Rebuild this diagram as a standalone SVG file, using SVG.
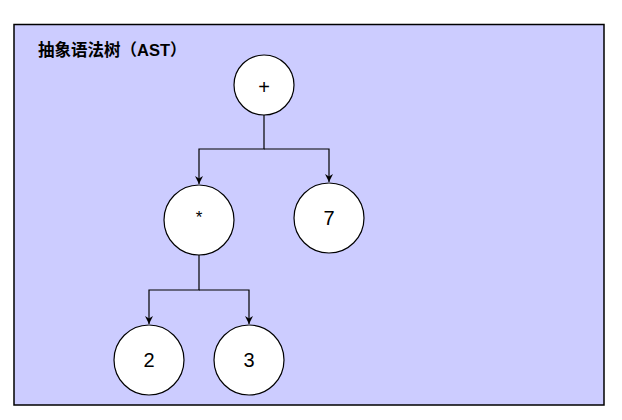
<svg xmlns="http://www.w3.org/2000/svg" width="622" height="420" viewBox="0 0 622 420">
<style>
.frame{fill:#ccccff;stroke:#000;stroke-width:1.5}
.node{fill:#fff;stroke:#000;stroke-width:1.2}
.lbl{font-family:"Liberation Sans",Arial,sans-serif;font-size:20px;fill:#000;text-anchor:middle;dominant-baseline:central}
.title{font-family:"Liberation Sans","Noto Sans CJK SC",sans-serif;font-size:16.5px;font-weight:bold;fill:#000}
.edge{fill:none;stroke:#000;stroke-width:1.2}
</style>
<defs>
<marker id="arr" viewBox="0 0 10 10" refX="10" refY="5" markerWidth="8" markerHeight="8" markerUnits="userSpaceOnUse" orient="auto">
<path d="M0,0 L10,5 L0,10 L3,5 z" fill="#000"/>
</marker>
</defs>
<rect class="frame" x="14" y="24.5" width="590" height="380.5"/>
<text class="title" x="38" y="56">抽象语法树（AST）</text>
<g id="connectors">
<path class="edge" d="M264,115 V149 H199 V184" marker-end="url(#arr)"/>
<path class="edge" d="M264,149 H329 V182" marker-end="url(#arr)"/>
<path class="edge" d="M199,255 V290 H149 V324" marker-end="url(#arr)"/>
<path class="edge" d="M199,290 H249 V324" marker-end="url(#arr)"/>
</g>
<g id="n-plus"><circle class="node" cx="264" cy="85" r="30"/><text class="lbl" x="264" y="87">+</text></g>
<g id="n-mul"><circle class="node" cx="199" cy="220" r="35"/><text class="lbl" x="199" y="217" style="font-size:17px">*</text></g>
<g id="n-7"><circle class="node" cx="329" cy="218" r="35"/><text class="lbl" x="329" y="218">7</text></g>
<g id="n-2"><circle class="node" cx="149" cy="360" r="35"/><text class="lbl" x="149" y="360">2</text></g>
<g id="n-3"><circle class="node" cx="249" cy="360" r="35"/><text class="lbl" x="249" y="360">3</text></g>
</svg>
